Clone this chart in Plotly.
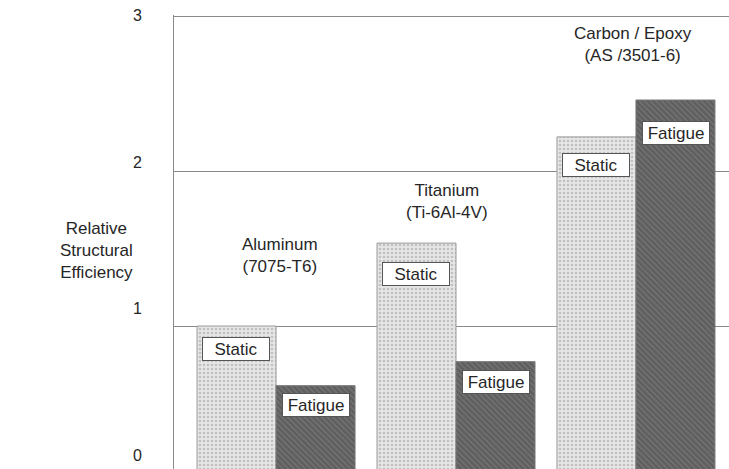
import plotly.graph_objects as go

materials = ["Aluminum<br>(7075-T6)", "Titanium<br>(Ti-6Al-4V)", "Carbon / Epoxy<br>(AS /3501-6)"]
static_vals = [1.0, 1.535, 2.22]
fatigue_vals = [0.615, 0.77, 2.458]
y_tick_vals = [0, 1, 2, 3]
y_tick_text = ["0", "1", "2", "3"]

# label placement (data units)
material_label_y = [1.452, 1.806, 2.819]
material_label_xshift = [4, -9, -3]
static_label_top = [0.929, 1.413, 2.116]
fatigue_label_top = [0.568, 0.716, 2.32]

xs = [0, 1, 2]
FONT = "Liberation Sans, Arial, sans-serif"
TXT = "#262626"
GRID = "#8a8a8a"

fig = go.Figure()
fig.add_trace(go.Bar(
    x=xs, y=static_vals, name="Static",
    marker=dict(color="#dadada",
                pattern=dict(shape=".", bgcolor="#e6e6e6", fgcolor="#9a9a9a", size=4, solidity=0.35),
                line=dict(color="#9a9a9a", width=1)),
))
fig.add_trace(go.Bar(
    x=xs, y=fatigue_vals, name="Fatigue",
    marker=dict(color="#6a6a6a",
                pattern=dict(shape="\\", bgcolor="#5e5e5e", fgcolor="#8c8c8c", size=4, solidity=0.35),
                line=dict(color="#777777", width=1)),
))
# invisible trace to carry the secondary axis for tick labels
fig.add_trace(go.Scatter(x=[None], y=[None], yaxis="y2", showlegend=False, hoverinfo="skip"))

annotations = []
for i, m in enumerate(materials):
    annotations.append(dict(x=i, y=material_label_y[i], xref="x", yref="y", text=m,
                            showarrow=False, xshift=material_label_xshift[i],
                            font=dict(family=FONT, size=17, color=TXT)))
    annotations.append(dict(x=i - 0.22, y=static_label_top[i], xref="x", yref="y", text="Static",
                            showarrow=False, yanchor="top", width=64, height=20,
                            bgcolor="white", bordercolor="#555555", borderwidth=1, borderpad=1,
                            font=dict(family=FONT, size=17, color=TXT)))
    annotations.append(dict(x=i + 0.22, y=fatigue_label_top[i], xref="x", yref="y", text="Fatigue",
                            showarrow=False, yanchor="top", width=64, height=20,
                            bgcolor="white", bordercolor="#555555", borderwidth=1, borderpad=1,
                            font=dict(family=FONT, size=17, color=TXT)))

annotations.append(dict(x=-0.209, y=0.482, xref="paper", yref="paper",
                        text="Relative<br>Structural<br>Efficiency", showarrow=False,
                        font=dict(family=FONT, size=17, color=TXT)))

fig.update_layout(
    width=729, height=469,
    margin=dict(l=174, r=0, t=15, b=0, autoexpand=False),
    paper_bgcolor="white", plot_bgcolor="white",
    barmode="group", bargap=0.122, bargroupgap=0,
    showlegend=False,
    xaxis=dict(range=[-0.567, 2.517], showticklabels=False, ticks="", showgrid=False,
               zeroline=False, showline=False, automargin=False),
    yaxis=dict(range=[0.0774, 3.0065], tickvals=[1, 2, 3], showticklabels=False, ticks="",
               showgrid=True, gridcolor=GRID, gridwidth=1, zeroline=False,
               showline=True, linecolor=GRID, linewidth=1, automargin=False),
    yaxis2=dict(overlaying="y", side="left", range=[-0.0955, 3.003],
                tickvals=y_tick_vals, ticktext=y_tick_text, showgrid=False, zeroline=False,
                showline=False, ticks="outside", ticklen=28, tickcolor="rgba(0,0,0,0)",
                automargin=False,
                tickfont=dict(family=FONT, size=16, color=TXT)),
    annotations=annotations,
)

fig.write_html(
    "out.html",
    config={"displayModeBar": False},
    post_script="document.body.style.margin='0';document.body.style.overflow='hidden';",
)
